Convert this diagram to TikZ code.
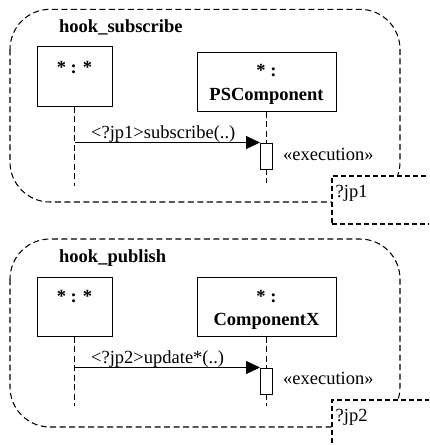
\documentclass[tikz,border=0pt]{standalone}
\usepackage{fontspec}
\setmainfont{Liberation Serif}
\usetikzlibrary{arrows.meta}
\begin{document}
\begin{tikzpicture}[x=1pt,y=-1pt,
  frame/.style={draw, dash pattern=on 6pt off 3.5pt, line width=1.05pt, rounded corners=40pt},
  jpbox/.style={draw, fill=white, dash pattern=on 5pt off 3pt, line width=1.5pt,
    anchor=north west, inner sep=0pt},
  objbox/.style={draw, line width=1pt, rectangle, inner sep=0pt, fill=white},
  exec/.style={draw, fill=white, line width=1pt, inner sep=0pt,
    minimum width=12pt, minimum height=26pt},
  lifeline/.style={draw, dash pattern=on 6pt off 3.5pt, line width=1pt},
  msg/.style={draw, line width=1.2pt, -{Triangle[length=14pt,width=13pt]}},
  txt/.style={font=\fontsize{18.5}{23}\selectfont, inner sep=0pt},
  btxt/.style={font=\fontsize{18.5}{23}\selectfont\bfseries, inner sep=0pt},
]
\useasboundingbox (0,0) rectangle (429,445);
\clip (0,0) rectangle (429,445);
\fill[white] (0,0) rectangle (429,445);

% ---------- hook_subscribe ----------
\draw[frame] (10,9.3) rectangle (400,202);
\node[btxt, anchor=base west] (t1) at (59,32.7) {hook\_subscribe};

\node[objbox, minimum width=75pt, minimum height=60pt] (a1) at (74.5,76) {};
\node[btxt, anchor=base] (a1t) at (74.5,73) {* : *};
\node[objbox, minimum width=139pt, minimum height=59pt] (b1) at (266.5,81.5) {};
\node[btxt, anchor=base] (b1t) at (266.5,76.7) {* :};
\node[btxt, anchor=base] (b1n) at (266.5,100) {PSComponent};

\coordinate (a1end) at (74.5,186);
\coordinate (b1end) at (266.5,183);
\draw[lifeline] (a1.south) -- (a1end);
\draw[lifeline] (b1.south) -- (b1end);
\node[exec] (e1) at (266.5,156) {};
\draw[msg] (a1.south |- e1.north west) -- (e1.north west);
\node[txt, anchor=base west] (m1) at (91,138.5) {<?jp1>subscribe(..)};
\node[txt, anchor=base west] (x1) at (283,160) {«execution»};

\node[jpbox, minimum width=115pt, minimum height=48pt] (jp1) at (331,175) {};
\node[txt, anchor=base west] (jp1t) at (335.5,197) {?jp1};

% ---------- hook_publish ----------
\draw[frame] (10,239) rectangle (400,427);
\node[btxt, anchor=base west] (t2) at (59,262.5) {hook\_publish};

\node[objbox, minimum width=75pt, minimum height=59pt] (a2) at (74.5,306.5) {};
\node[btxt, anchor=base] (a2t) at (74.5,302) {* : *};
\node[objbox, minimum width=139pt, minimum height=59pt] (b2) at (266.5,306.5) {};
\node[btxt, anchor=base] (b2t) at (266.5,302) {* :};
\node[btxt, anchor=base] (b2n) at (266.5,325) {ComponentX};

\coordinate (a2end) at (74.5,406);
\coordinate (b2end) at (266.5,406);
\draw[lifeline] (a2.south) -- (a2end);
\draw[lifeline] (b2.south) -- (b2end);
\node[exec] (e2) at (266.5,381) {};
\draw[msg] (a2.south |- e2.north west) -- (e2.north west);
\node[txt, anchor=base west] (m2) at (91,363) {<?jp2>update*(..)};
\node[txt, anchor=base west] (x2) at (283,384) {«execution»};

\node[jpbox, minimum width=115pt, minimum height=60pt] (jp2) at (331,399) {};
\node[txt, anchor=base west] (jp2t) at (335.5,421) {?jp2};
\end{tikzpicture}
\end{document}
